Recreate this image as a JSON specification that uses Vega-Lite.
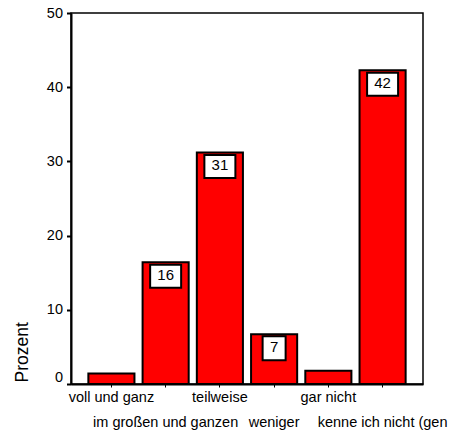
{
  "$schema": "https://vega.github.io/schema/vega-lite/v6.json",
  "autosize": "none",
  "width": 352,
  "height": 371,
  "padding": {"left": 71, "top": 13, "right": 35, "bottom": 53},
  "background": "white",
  "view": {"stroke": "black", "strokeWidth": 1.5},
  "config": {
    "font": "Liberation Sans",
    "axis": {"labelColor": "black", "titleColor": "black", "domainColor": "black", "tickColor": "black", "grid": false}
  },
  "data": {
    "values": [
      {"Antwort": "voll und ganz", "Prozent": 1.4},
      {"Antwort": "im großen und ganzen", "Prozent": 16.4},
      {"Antwort": "teilweise", "Prozent": 31.2},
      {"Antwort": "weniger", "Prozent": 6.7},
      {"Antwort": "gar nicht", "Prozent": 1.8},
      {"Antwort": "kenne ich nicht (gen", "Prozent": 42.3}
    ]
  },
  "encoding": {
    "x": {
      "field": "Antwort",
      "type": "nominal",
      "sort": null,
      "scale": {"paddingInner": 0.15, "paddingOuter": 0.32},
      "axis": {
        "title": null,
        "labelAngle": 0,
        "labelFontSize": 14.5,
        "labelBaseline": "top",
        "labelPadding": 3.5,
        "labelLineHeight": 25,
        "labelOverlap": false,
        "labelBound": false,
        "labelLimit": 0,
        "labelExpr": "indexof(['im großen und ganzen','weniger','kenne ich nicht (gen'], datum.value) >= 0 ? ['', datum.label] : datum.label",
        "domainWidth": 2,
        "tickSize": 3,
        "tickWidth": 1
      }
    },
    "y": {
      "field": "Prozent",
      "type": "quantitative",
      "scale": {"domain": [0, 50], "nice": false},
      "axis": {
        "title": "Prozent",
        "titleFontSize": 17.5,
        "titleFontWeight": "normal",
        "titleAngle": 270,
        "titleAlign": "left",
        "titleBaseline": "alphabetic",
        "titleX": -44,
        "titleY": 369,
        "values": [0, 10, 20, 30, 40, 50],
        "labelFontSize": 14.5,
        "labelPadding": 4,
        "labelOffset": {"condition": {"test": "datum.value == 0", "value": -7}, "value": 0},
        "domainWidth": 2,
        "tickSize": 4.5,
        "tickWidth": 2
      }
    }
  },
  "layer": [
    {
      "mark": {"type": "bar", "fill": "#ff0000", "stroke": "black", "strokeWidth": 2}
    },
    {
      "transform": [{"filter": "datum.Prozent >= 5"}],
      "mark": {"type": "point", "filled": true, "fill": "white", "stroke": "black", "strokeWidth": 2, "opacity": 1, "fillOpacity": 1, "size": 961, "yOffset": 14},
      "encoding": {
        "shape": {"condition": {"test": "datum.Prozent < 9.5", "value": "M-0.742,-0.77H0.742V0.77H-0.742Z"}, "value": "M-1,-0.742H1V0.742H-1Z"}
      }
    },
    {
      "transform": [{"filter": "datum.Prozent >= 5"}],
      "mark": {"type": "text", "fontSize": 15, "color": "black", "baseline": "middle", "align": "center", "yOffset": 13},
      "encoding": {
        "text": {"field": "Prozent", "type": "quantitative", "format": ".0f"}
      }
    }
  ]
}
